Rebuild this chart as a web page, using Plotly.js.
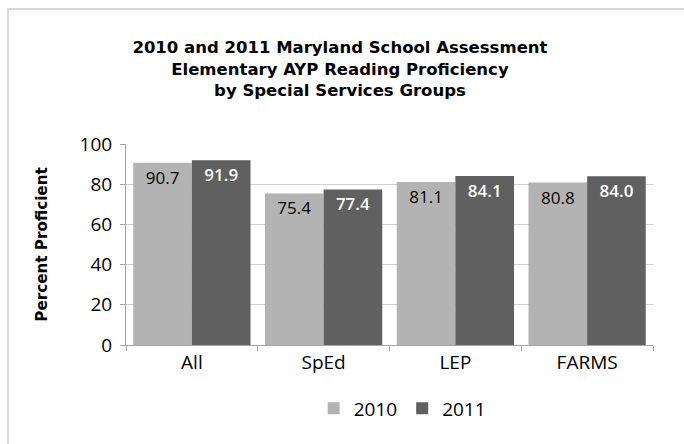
<!DOCTYPE html>
<html>
<head>
<meta charset="utf-8">
<script src="https://cdn.plot.ly/plotly-3.0.1.min.js"></script>
<style>
  html, body { margin: 0; padding: 0; background: #fff; overflow: hidden; }
  #frame { position: absolute; left: 7px; top: 8px; width: 720px; height: 480px; border: 2px solid #D9D9D9; box-sizing: border-box; }
  #chart { position: absolute; left: 0; top: 0; width: 684px; height: 444px; }
</style>
</head>
<body>
<div id="frame"></div>
<div id="chart"></div>
<script>
const categories = ["All", "SpEd", "LEP", "FARMS"];
const values2010 = [90.7, 75.4, 81.1, 80.8];
const values2011 = [91.9, 77.4, 84.1, 84.0];
const seriesNames = ["2010", "2011"];
const yTicks = [0, 20, 40, 60, 80, 100];

const bodyFont = "'Open Sans', Lato, sans-serif";
const headFont = "'DejaVu Sans', Verdana, sans-serif";

const traces = [
  {
    type: "bar", name: seriesNames[0], x: categories, y: values2010,
    marker: { color: "#B3B3B3" },
    text: values2010.map(v => v.toFixed(1)), textposition: "inside", insidetextanchor: "end",
    textfont: { color: "#000000", size: 17, family: bodyFont },
    constraintext: "none", cliponaxis: false, hoverinfo: "skip"
  },
  {
    type: "bar", name: seriesNames[1], x: categories, y: values2011,
    marker: { color: "#606060" },
    text: values2011.map(v => v.toFixed(1)), textposition: "inside", insidetextanchor: "end",
    textfont: { color: "#FFFFFF", size: 17, family: bodyFont, weight: 600 },
    constraintext: "none", cliponaxis: false, hoverinfo: "skip"
  }
];

const layout = {
  width: 684, height: 444,
  paper_bgcolor: "rgba(0,0,0,0)", plot_bgcolor: "rgba(0,0,0,0)",
  margin: { l: 126, r: 31, t: 144, b: 99 },
  font: { family: bodyFont, color: "#000" },
  title: {
    text: "<b>2010 and 2011 Maryland School Assessment<br>Elementary AYP Reading Proficiency<br>by Special Services Groups</b>",
    font: { size: 16.5, family: headFont, color: "#000" },
    x: 0.497, xanchor: "center", y: 0.88, yanchor: "top", yref: "container"
  },
  barmode: "group", bargap: 0.11, bargroupgap: 0,
  xaxis: {
    type: "category", showgrid: false, ticks: "outside", tickson: "boundaries",
    ticklen: 5, tickcolor: "#A6A6A6", showline: true, linecolor: "#A6A6A6", linewidth: 1,
    tickfont: { size: 19, family: bodyFont, color: "#000" }, zeroline: false
  },
  yaxis: {
    range: [0, 100], tickvals: yTicks, showgrid: true, gridcolor: "#D0D0D0", gridwidth: 1,
    ticks: "outside", ticklen: 5, tickcolor: "#A6A6A6", showline: true, linecolor: "#A6A6A6",
    ticklabelstandoff: 4,
    zeroline: false, tickfont: { size: 19, family: bodyFont, color: "#000" },
    title: { text: "<b>Percent Proficient</b>", font: { size: 15.2, family: headFont, color: "#000" }, standoff: 28 }
  },
  showlegend: true,
  legend: {
    orientation: "h", x: 0.588, xanchor: "center", xref: "container", y: 0.08, yref: "container", yanchor: "middle",
    font: { size: 19, family: bodyFont, color: "#000" }, itemwidth: 30, tracegroupgap: 0
  }
};

Plotly.newPlot("chart", traces, layout, { displayModeBar: false, staticPlot: true });
</script>
</body>
</html>
